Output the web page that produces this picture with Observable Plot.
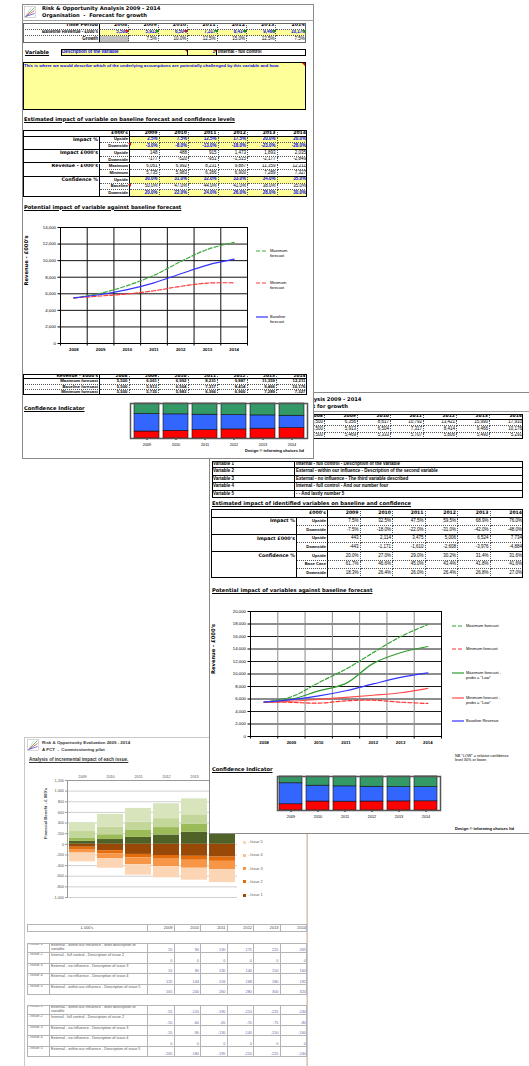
<!DOCTYPE html>
<html>
<head>
<meta charset="utf-8">
<script src="https://cdn.jsdelivr.net/npm/d3@7"></script>
<script src="https://cdn.jsdelivr.net/npm/@observablehq/plot@0.6"></script>
<style>
html,body{margin:0;padding:0;background:#fff;}
body{position:relative;width:529px;height:1066px;overflow:hidden;font-family:"Liberation Sans",Arial,sans-serif;}
.sheet{position:absolute;background:#fff;box-shadow:inset 0 0 0 1px #8a8a8a;overflow:hidden;}
.c{position:absolute;box-sizing:border-box;white-space:nowrap;overflow:hidden;display:flex;align-items:center;font-size:4.5px;line-height:1;padding:0 1px;}
.t{position:absolute;white-space:pre;line-height:1.15;}
.box{position:absolute;box-sizing:border-box;pointer-events:none;}
.sheet svg{position:absolute;overflow:visible;}
</style>
</head>
<body>
<script>
// ---------------- data ----------------
const years = [2008, 2009, 2010, 2011, 2012, 2013, 2014];
const forecastYears = [2009, 2010, 2011, 2012, 2013, 2014];
const growthPct = [null, 7.5, 10.0, 12.5, 15.0, 12.5, 7.5];
const baselineRevenue = [5500, 5913, 6504, 7317, 8414, 9466, 10176];

// Single variable: "Description of the variable"
const oneUpsidePct = [2.5, 7.5, 12.5, 17.5, 20.0, 20.0];
const oneDownsidePct = [-3.0, -8.0, -13.0, -18.0, -23.0, -28.0];
const oneUpsideK = [148, 488, 915, 1473, 1893, 2035];
const oneDownsideK = [-177, -520, -951, -1515, -2177, -2849];
const oneMaxForecast = [5500, 6061, 6992, 8231, 9887, 11359, 12211];
const oneMinForecast = [5500, 5735, 5983, 6366, 6900, 7289, 7327];
const oneConfUp = [30.0, 31.0, 32.0, 33.0, 34.0, 35.0];
const oneConfBase = [50.0, 47.0, 44.0, 41.0, 38.0, 35.0];
const oneConfDown = [20.0, 22.0, 24.0, 26.0, 28.0, 30.0];

// Five identified variables combined
const variableNames = ["Variable 1", "Variable 2", "Variable 3", "Variable 4", "Variable 5"];
const variableDesc = [
  "Internal - full control - Description of the variable",
  "External - within our influence - Description of the second variable",
  "External - no influence - The third variable described",
  "Internal - full control - And our number four",
  " -  - And lastly number 5"
];
const allUpsidePct = [7.5, 32.5, 47.5, 59.5, 68.9, 76.0];
const allDownsidePct = [-7.5, -18.0, -22.0, -31.0, -42.0, -48.0];
const allUpsideK = [443, 2114, 3475, 5006, 6524, 7734];
const allDownsideK = [-443, -1171, -1610, -2608, -3976, -4884];
const allMaxForecast = [5500, 6356, 8617, 10792, 13421, 15990, 17910];
const allMinForecast = [5500, 5469, 5333, 5707, 5806, 5490, 5291];
const allMaxLowConf = [5500, 5950, 7300, 8500, 11700, 13400, 14400];
const allMinLowConf = [5500, 5650, 5950, 6250, 6600, 7000, 7700];
const allConfUp = [20.0, 27.0, 29.0, 30.2, 31.4, 31.6];
const allConfBase = [61.7, 46.6, 45.0, 43.4, 41.8, 41.6];
const allConfDown = [18.3, 26.4, 26.0, 26.4, 26.8, 27.0];

// Commissioning pilot: incremental impact of each issue
const issueYears = [2009, 2010, 2011, 2012, 2013, 2014];
const issueNames = ["Issue 1", "Issue 2", "Issue 3", "Issue 4", "Issue 5"];
const issueDesc = [
  "External - within our influence - Brief description of variable",
  "Internal - full control - Description of issue 2",
  "External - no influence - Description of issue 3",
  "External - no influence - Description of issue 4",
  "External - within our influence - Description of issue 5"
];
const issueUpside = [
  [55, 90, 130, 175, 225, 265],
  [0, 0, 0, 0, 0, 0],
  [55, 90, 130, 140, 150, 160],
  [132, 144, 156, 168, 180, 192],
  [165, 240, 260, 280, 300, 320]
];
const issueDownside = [
  [-55, -120, -190, -210, -225, -240],
  [-55, -60, -65, -70, -75, -80],
  [-55, -90, -130, -140, -150, -160],
  [0, 0, 0, 0, 0, 0],
  [-165, -180, -195, -210, -225, -240]
];

// ---------------- styling ----------------
const upsideColors = ["#4f6228", "#77933c", "#9bbb59", "#c4d79b", "#d8e4bc"];
const downsideColors = ["#984807", "#e46c0a", "#f79646", "#fabf8f", "#fcd5b4"];
const YEL = "#ffff99", BLUE = "#0000ee";
const DOT = "1px dotted #555", SOL = "1px solid #000", GRY = "1px solid #b4b4b4";
const FONT = '"Liberation Sans", Arial, sans-serif';
const HEAD = '"DejaVu Sans", sans-serif';

const locale = d3.formatLocale({decimal: ".", thousands: ",", grouping: [3], currency: ["£", ""], minus: "-"});
const fmtInt = locale.format(",.0f");
const fmtPct = v => v.toFixed(1) + "%";

// ---------------- helpers ----------------
function sheet(x, y, w, h, z) {
  const d = document.createElement("div");
  d.className = "sheet";
  Object.assign(d.style, {left: x + "px", top: y + "px", width: w + "px", height: h + "px", zIndex: z});
  d.ox = x; d.oy = y;
  document.body.appendChild(d);
  return d;
}
function cell(s, x, y, w, h, text, o = {}) {
  const d = document.createElement("div");
  d.className = "c";
  const st = d.style;
  st.left = (x - s.ox) + "px"; st.top = (y - s.oy) + "px";
  st.width = w + "px"; st.height = h + "px";
  st.justifyContent = o.align === "left" ? "flex-start" : o.align === "center" ? "center" : "flex-end";
  st.borderRight = o.r || "none";
  st.borderBottom = o.b || "none";
  if (o.bg) st.background = o.bg;
  st.color = o.color || "#000";
  st.fontWeight = o.bold ? "bold" : "normal";
  if (o.size) st.fontSize = o.size + "px";
  if (o.family) st.fontFamily = o.family;
  if (o.valign) st.alignItems = o.valign;
  if (o.wrap) { st.whiteSpace = "normal"; st.lineHeight = "1.15"; }
  d.textContent = text;
  s.appendChild(d);
  return d;
}
function label(s, x, y, text, o = {}) {
  const d = document.createElement("div");
  d.className = "t";
  d.style.left = (x - s.ox) + "px"; d.style.top = (y - s.oy) + "px";
  d.style.fontSize = (o.size || 5) + "px";
  d.style.fontWeight = o.bold ? "bold" : "normal";
  d.style.color = o.color || "#000";
  if (o.family) d.style.fontFamily = o.family;
  if (o.underline) d.style.textDecoration = "underline";
  d.textContent = text;
  s.appendChild(d);
  return d;
}
function rect(s, x, y, w, h, border, bg) {
  const d = document.createElement("div");
  d.className = "box";
  Object.assign(d.style, {left: (x - s.ox) + "px", top: (y - s.oy) + "px", width: w + "px", height: h + "px"});
  if (border) d.style.border = border;
  if (bg) d.style.background = bg;
  s.appendChild(d);
  return d;
}
function marker(s, x, y, color) {
  const d = document.createElement("div");
  d.className = "box";
  Object.assign(d.style, {left: (x - 3 - s.ox) + "px", top: (y - s.oy) + "px", width: "0", height: "0",
    borderTop: "3px solid " + color, borderLeft: "3px solid transparent"});
  s.appendChild(d);
}
function mount(s, el, x, y) {
  el.style.position = "absolute";
  el.style.left = (x - s.ox) + "px";
  el.style.top = (y - s.oy) + "px";
  s.appendChild(el);
}
function svgEl(w, h, inner) {
  const div = document.createElement("div");
  div.innerHTML = `<svg xmlns="http://www.w3.org/2000/svg" width="${w}" height="${h}" viewBox="0 0 ${w} ${h}">${inner}</svg>`;
  return div.firstChild;
}
function logo() {
  return svgEl(12, 12, `<rect x="0.5" y="0.5" width="11" height="11" fill="#fff" stroke="#bbb" stroke-width="0.6"/>
    <path d="M1.5 10.5 L10.5 1.5" stroke="#3a3" stroke-width="0.7"/>
    <path d="M1.5 10.5 L10.5 4.5" stroke="#e33" stroke-width="0.7"/>
    <path d="M1.5 10.5 L10.5 7.5" stroke="#33e" stroke-width="0.7"/>
    <path d="M1.5 10.5 L7 1.5" stroke="#aaa" stroke-width="0.5"/>`);
}
function lineLegend(s, x, y, text, stroke, dash, size) {
  const sw = svgEl(12, 4, `<line x1="0" y1="2" x2="12" y2="2" stroke="${stroke}" stroke-width="1.2" ${dash ? `stroke-dasharray="${dash}"` : ""}/>`);
  mount(s, sw, x, y);
  label(s, x + 14, y, text, {size});
}

// Tables of impact by year (variable label, sub label, one column per forecast year)
function impactTable(s, x0, y0, lw, sw, cw, rh, groups, highlight) {
  cell(s, x0, y0, lw + sw, rh, "£000's", {bold: true, r: SOL, b: SOL, family: HEAD, size: 4.6});
  forecastYears.forEach((yr, j) => cell(s, x0 + lw + sw + j * cw, y0, cw, rh, String(yr),
    {bold: true, r: j < 5 ? DOT : "none", b: SOL, family: HEAD, size: 4.6}));
  let y = y0 + rh;
  groups.forEach(g => {
    g.rows.forEach((row, i) => {
      const last = i === g.rows.length - 1;
      cell(s, x0, y, lw, rh, i === 0 ? g.name : "", {bold: true, r: SOL, b: last ? SOL : "none", size: 4.8, family: HEAD});
      cell(s, x0 + lw, y, sw, rh, row.sub, {bold: true, r: SOL, b: last ? SOL : DOT, size: 4.2});
      const hl = highlight && row.hl;
      row.values.forEach((v, j) => cell(s, x0 + lw + sw + j * cw, y, cw, rh, v,
        {r: j < 5 ? DOT : "none", b: last ? SOL : DOT, bg: hl ? YEL : null, color: hl ? BLUE : "#000", bold: hl}));
      y += rh;
    });
  });
  rect(s, x0, y0, lw + sw + 6 * cw, y - y0, "1px solid #000");
}

function revenueChart(o) {
  const yTicks = d3.range(0, o.yMax + 1, 2000);
  const bounds = years.map(y => y - 0.5).concat([years[years.length - 1] + 0.5]);
  const seriesMarks = o.series.map(s => Plot.line(
    years.map((yr, i) => ({year: yr, value: s.values[i]})),
    {x: "year", y: "value", stroke: s.stroke, strokeWidth: 1.2, strokeDasharray: s.dash || null, curve: "catmull-rom"}
  ));
  return Plot.plot({
    width: o.width, height: o.height,
    marginLeft: o.ml, marginRight: o.mr, marginTop: o.mt, marginBottom: o.mb,
    style: {background: "transparent", fontSize: o.fs + "px", fontFamily: FONT, color: "#000", overflow: "visible"},
    x: {domain: [years[0] - 0.5, years[years.length - 1] + 0.5]},
    y: {domain: [0, o.yMax]},
    marks: [
      Plot.ruleY(yTicks, {stroke: o.hGrid, strokeWidth: 1}),
      Plot.ruleX(bounds, {stroke: o.vGrid, strokeWidth: 1}),
      Plot.axisY(yTicks, {tickSize: 2.5, tickPadding: 2, tickFormat: fmtInt, fontSize: o.fs, label: null}),
      Plot.axisX(bounds, {tickSize: 2.5, tickFormat: () => "", label: null}),
      Plot.axisX(years, {tickSize: 0, tickPadding: 4, tickFormat: d => String(d), fontSize: o.fs, fontWeight: "bold", label: null}),
      Plot.text([o.yTitle], {text: d => d, frameAnchor: "left", rotate: -90, dx: -o.titleOffset, fontSize: 5.2, fontWeight: "bold", fontFamily: HEAD}),
      ...seriesMarks,
      Plot.frame({stroke: "#000"})
    ]
  });
}

function confidenceChart(o) {
  const rows = [];
  forecastYears.forEach((yr, i) => {
    rows.push({year: yr, part: "Downside", value: o.down[i]});
    rows.push({year: yr, part: "Baseline", value: o.base[i]});
    rows.push({year: yr, part: "Upside", value: o.up[i]});
  });
  return Plot.plot({
    width: o.width, height: o.height,
    marginLeft: o.ml, marginRight: o.mr, marginTop: o.mt, marginBottom: o.mb,
    style: {background: "transparent", fontSize: "3.8px", fontFamily: FONT, color: "#000", overflow: "visible"},
    x: {type: "band", domain: forecastYears, paddingInner: 0.14, paddingOuter: 0.05},
    y: {domain: [0, 100], axis: null},
    color: {domain: ["Downside", "Baseline", "Upside"], range: ["#ff0000", "#3366ff", "#339966"]},
    marks: [
      Plot.barY(rows, {x: "year", y: "value", fill: "part", stroke: "#111", strokeWidth: 0.6}),
      Plot.axisX({tickSize: 2, tickPadding: 3, fontSize: 3.8, tickFormat: d => String(d), label: null}),
      Plot.frame({stroke: "#555", strokeWidth: 1.5})
    ]
  });
}

function issueChart(o) {
  const rows = [];
  issueYears.forEach((yr, j) => {
    issueNames.forEach((nm, i) => rows.push({year: yr, key: "up " + nm, value: issueUpside[i][j], fill: upsideColors[i]}));
    issueNames.forEach((nm, i) => rows.push({year: yr, key: "down " + nm, value: issueDownside[i][j], fill: downsideColors[i]}));
  });
  const yTicks = d3.range(-1000, 1201, 200);
  return Plot.plot({
    width: o.width, height: o.height,
    marginLeft: o.ml, marginRight: o.mr, marginTop: o.mt, marginBottom: o.mb,
    style: {background: "transparent", fontSize: "3.6px", fontFamily: FONT, color: "#555", overflow: "visible"},
    x: {type: "band", domain: issueYears, paddingInner: 0.07, paddingOuter: 0.03},
    y: {domain: [-1000, 1200]},
    color: {type: "identity"},
    marks: [
      Plot.ruleY(yTicks, {stroke: "#c4c4c4", strokeWidth: 0.8}),
      Plot.barY(rows, {x: "year", y: "value", z: "key", fill: "fill"}),
      Plot.axisY(yTicks, {tickSize: 2, tickPadding: 1.5, tickFormat: fmtInt, fontSize: 3.8, stroke: "#999", label: null}),
      Plot.axisX({anchor: "top", tickSize: 0, tickPadding: 3, fontSize: 3.8, tickFormat: d => String(d), label: null}),
      Plot.frame({anchor: "left", stroke: "#999"}),
      Plot.frame({anchor: "top", stroke: "#999"}),
      Plot.text(["Financial Benefit - £ 000's"], {text: d => d, frameAnchor: "left", rotate: -90, dx: -o.titleOffset, fontSize: 4.2, fontWeight: "bold", fill: "#444"})
    ]
  });
}

// ============ Sheet 3 (back): commissioning pilot ============
const s3 = sheet(24, 737, 284, 340, 1);
s3.style.boxShadow = "inset 0 0 0 1px #c8c8c8, inset -1px 0 0 1px #f6d7bd";
mount(s3, logo(), 27, 739);
label(s3, 42, 739.5, "Risk & Opportunity Evaluation 2009 - 2014", {size: 4.4, bold: true, color: "#333"});
label(s3, 42, 746.5, "A PCT  -  Commissioning pilot", {size: 4.4, bold: true, color: "#333"});
label(s3, 29, 757, "Analysis of incremental impact of each issue.", {size: 4.6, bold: true, underline: true, color: "#333"});
mount(s3, issueChart({width: 213, height: 135, ml: 39, mr: 4, mt: 14, mb: 4, titleOffset: 22}), 28, 766);
// legend for the issues (downside shades)
[4, 3, 2, 1, 0].forEach((i, k) => {
  rect(s3, 243, 840.5 + k * 13.3, 3, 3, null, downsideColors[i]);
  label(s3, 248, 840 + k * 13.3, "- " + issueNames[i], {size: 3.8, color: "#555"});
});
// issue tables
{
  const x0 = 27, lw = 23, dw = 98, cw = 26.5, rh = 10.4;
  const G = GRY;
  cell(s3, x0, 924, lw + dw, 8, "£ 000's", {align: "center", r: G, b: G, size: 3.9, color: "#444"});
  issueYears.forEach((yr, j) => cell(s3, x0 + lw + dw + j * cw, 924, cw, 8, String(yr), {r: j < 5 ? G : "none", b: G, size: 3.9, color: "#444"}));
  rect(s3, x0, 924, lw + dw + 6 * cw, 8, G);
  const table = (y0, values) => {
    issueNames.forEach((nm, i) => {
      const y = y0 + i * rh;
      cell(s3, x0, y, lw, rh, "- " + nm, {align: "left", r: G, b: G, size: 3.8, color: "#555", valign: "flex-start"});
      cell(s3, x0 + lw, y, dw, rh, issueDesc[i], {align: "left", wrap: true, r: G, b: G, size: 3.8, color: "#555", valign: "flex-start"});
      values[i].forEach((v, j) => cell(s3, x0 + lw + dw + j * cw, y, cw, rh, fmtInt(v),
        {r: j < 5 ? G : "none", b: G, size: 3.9, color: "#6a6aa8", valign: "flex-end"}));
    });
    rect(s3, x0, y0, lw + dw + 6 * cw, 5 * rh, G);
  };
  table(943, issueUpside);
  table(1005, issueDownside);
}

// ============ Sheet 2 (middle): identified variables ============
const s2 = sheet(209, 392, 330, 442, 2);
label(s2, 243, 396.6, "Risk & Opportunity Analysis 2009 - 2014", {size: 5.2, bold: true, family: HEAD});
label(s2, 243, 404.2, "Organisation  -  Forecast for growth", {size: 5.2, bold: true, family: HEAD});
rect(s2, 209, 411, 330, 1, null, "#a0a0a0");
{
  const x0 = 220, lw = 72, cw = 33, rh = 6.4, y0 = 413.5;
  const rows = [
    ["Revenue - £000's", years.map(String), true],
    ["Maximum forecast", allMaxForecast.map(fmtInt), false],
    ["Baseline forecast", baselineRevenue.map(fmtInt), false],
    ["Minimum forecast", allMinForecast.map(fmtInt), false]
  ];
  rows.forEach((r, i) => {
    const y = y0 + i * rh;
    cell(s2, x0, y, lw, rh, r[0], {bold: true, r: SOL, b: i === 0 ? SOL : DOT});
    r[1].forEach((v, j) => cell(s2, x0 + lw + j * cw, y, cw, rh, v,
      {bold: r[2], family: r[2] ? HEAD : null, r: j < 6 ? DOT : "none", b: i === 0 ? SOL : DOT}));
  });
  rect(s2, x0, y0, lw + 7 * cw, 4 * rh, "1px solid #000");
}
{
  const x0 = 212, lw = 83, w = 311, rh = 7.4, y0 = 461;
  variableNames.forEach((nm, i) => {
    cell(s2, x0, y0 + i * rh, lw, rh, nm, {align: "left", bold: true, r: SOL, b: SOL, size: 4.5});
    cell(s2, x0 + lw, y0 + i * rh, w - lw, rh, variableDesc[i], {align: "left", bold: true, b: SOL, size: 4.5});
  });
  rect(s2, x0, y0, w, 5 * rh, "1px solid #000");
}
label(s2, 212, 501, "Estimated impact of identified variables on baseline and confidence", {size: 5.2, bold: true, underline: true, family: HEAD});
impactTable(s2, 211, 509, 86, 31, 32.5, 8.6, [
  {name: "Impact %", rows: [{sub: "Upside", values: allUpsidePct.map(fmtPct)}, {sub: "Downside", values: allDownsidePct.map(fmtPct)}]},
  {name: "Impact £000's", rows: [{sub: "Upside", values: allUpsideK.map(fmtInt)}, {sub: "Downside", values: allDownsideK.map(fmtInt)}]},
  {name: "Confidence %", rows: [{sub: "Upside", values: allConfUp.map(fmtPct)}, {sub: "Base Case", values: allConfBase.map(fmtPct)}, {sub: "Downside", values: allConfDown.map(fmtPct)}]}
], false);
label(s2, 212, 588, "Potential impact of variables against baseline forecast", {size: 5.2, bold: true, underline: true, family: HEAD});
mount(s2, revenueChart({
  width: 239, height: 147, ml: 45, mr: 3, mt: 8, mb: 14, fs: 4.3, yMax: 20000,
  hGrid: "#1a1a1a", vGrid: "#8a8a8a", titleOffset: 37, yTitle: "Revenue - £000's",
  series: [
    {values: allMaxForecast, stroke: "#33a033", dash: "4,2"},
    {values: allMinForecast, stroke: "#ff3333", dash: "4,2"},
    {values: allMaxLowConf, stroke: "#2f9a2f"},
    {values: allMinLowConf, stroke: "#ff4d4d"},
    {values: baselineRevenue, stroke: "#3333ff"}
  ]
}), 205, 603);
lineLegend(s2, 452, 624, "Maximum forecast", "#33a033", "4,2", 4);
lineLegend(s2, 452, 647, "Minimum forecast", "#ff3333", "4,2", 4);
lineLegend(s2, 452, 671, "Maximum forecast -\nprobs = \"Low\"", "#2f9a2f", null, 4);
lineLegend(s2, 452, 696, "Minimum forecast -\nprobs = \"Low\"", "#ff4d4d", null, 4);
lineLegend(s2, 452, 719, "Baseline Revenue", "#3333ff", null, 4);
label(s2, 455, 754, "NB \"LOW\" = relative confidence\nlevel 30% or lower.", {size: 3.8});
label(s2, 212, 767, "Confidence Indicator", {size: 5.2, bold: true, underline: true, family: HEAD});
mount(s2, confidenceChart({width: 172, height: 49, ml: 5, mr: 4, mt: 4, mb: 11,
  up: allConfUp, base: allConfBase, down: allConfDown}), 272, 772);
label(s2, 455, 827, "Design © informing choices ltd", {size: 4, bold: true});

// ============ Sheet 1 (front): single variable ============
const s1 = sheet(22, 4, 292, 455, 3);
mount(s1, logo(), 24, 6);
label(s1, 42, 6.2, "Risk & Opportunity Analysis 2009 - 2014", {size: 5.2, bold: true, family: HEAD});
label(s1, 42, 12.6, "Organisation  -  Forecast for growth", {size: 5.2, bold: true, family: HEAD});
rect(s1, 22, 20, 292, 1, null, "#a0a0a0");
{
  const x0 = 23, lw = 77, cw = 29.4, rh = 6.6, y0 = 23;
  cell(s1, x0, y0, lw, rh, "Time Period", {bold: true, r: SOL, b: DOT, size: 4.8, family: HEAD});
  years.forEach((yr, j) => cell(s1, x0 + lw + j * cw, y0, cw, rh, String(yr), {bold: true, r: j < 6 ? DOT : "none", b: DOT, size: 4.8, family: HEAD}));
  cell(s1, x0, y0 + rh, lw, rh, "Baseline Revenue - £000's", {bold: true, r: SOL, b: DOT});
  baselineRevenue.forEach((v, j) => {
    cell(s1, x0 + lw + j * cw, y0 + rh, cw, rh, fmtInt(v), {bold: true, bg: YEL, color: BLUE, r: j < 6 ? DOT : "none", b: DOT});
    marker(s1, x0 + lw + (j + 1) * cw - 1, y0 + rh, j === 0 || j === 2 ? "#ff0000" : "#00a000");
  });
  cell(s1, x0, y0 + 2 * rh, lw, rh, "Growth", {bold: true, r: SOL});
  growthPct.forEach((v, j) => cell(s1, x0 + lw + j * cw, y0 + 2 * rh, cw, rh, v == null ? "" : fmtPct(v),
    {bg: v == null ? "#c0c0c0" : null, r: j < 6 ? DOT : "none"}));
  rect(s1, x0 - 0.5, y0 - 0.5, lw + 7 * cw + 1, 3 * rh + 1, "1.5px solid #666");
}
label(s1, 25, 50, "Variable", {size: 5.2, bold: true, underline: true, family: HEAD});
cell(s1, 61, 49, 127, 7, "Description of the variable", {align: "left", bg: YEL, color: BLUE, bold: true, r: SOL});
marker(s1, 187, 49, "#ff0000");
cell(s1, 188, 49, 29, 7, "1", {align: "flex-end", bg: YEL, color: BLUE, bold: true, r: SOL});
marker(s1, 216, 49, "#ff0000");
cell(s1, 217, 49, 89, 7, "Internal - full control", {align: "left", bold: true});
rect(s1, 61, 49, 245, 7, "1px solid #000");
{
  const d = cell(s1, 23, 62, 283, 48, "This is where we would describe which of the underlying assumptions are potentially challenged by this variable and how.",
    {align: "left", bg: YEL, color: BLUE, bold: true, valign: "flex-start", size: 4.4});
  d.style.paddingTop = "2px";
  rect(s1, 23, 62, 283, 48, "1px solid #000");
  marker(s1, 305, 63, "#ff0000");
}
label(s1, 24, 116.5, "Estimated impact of variable on baseline forecast and confidence levels", {size: 5.2, bold: true, underline: true, family: HEAD});
impactTable(s1, 23, 130, 77, 30, 29.5, 6.7, [
  {name: "Impact %", rows: [{sub: "Upside", values: oneUpsidePct.map(fmtPct), hl: true}, {sub: "Downside", values: oneDownsidePct.map(fmtPct), hl: true}]},
  {name: "Impact £000's", rows: [{sub: "Upside", values: oneUpsideK.map(fmtInt)}, {sub: "Downside", values: oneDownsideK.map(fmtInt)}]},
  {name: "Revenue - £000's", rows: [{sub: "Maximum", values: oneMaxForecast.slice(1).map(fmtInt)}, {sub: "Minimum", values: oneMinForecast.slice(1).map(fmtInt)}]},
  {name: "Confidence %", rows: [{sub: "Upside", values: oneConfUp.map(fmtPct), hl: true}, {sub: "Baseline", values: oneConfBase.map(fmtPct)}, {sub: "Downside", values: oneConfDown.map(fmtPct), hl: true}]}
], true);
marker(s1, 131, 143.4, "#ff0000");
marker(s1, 131, 183.6, "#ff0000");
label(s1, 24, 204.5, "Potential impact of variable against baseline forecast", {size: 5.2, bold: true, underline: true, family: HEAD});
mount(s1, revenueChart({
  width: 230, height: 139, ml: 40, mr: 3, mt: 9, mb: 14, fs: 4.3, yMax: 14000,
  hGrid: "#111", vGrid: "#111", titleOffset: 34, yTitle: "Revenue - £000's",
  series: [
    {values: oneMaxForecast, stroke: "#3fa83f", dash: "4,2"},
    {values: oneMinForecast, stroke: "#ff3b3b", dash: "4,2"},
    {values: baselineRevenue, stroke: "#3333ff"}
  ]
}), 20, 218);
lineLegend(s1, 256, 249, "Maximum\nforecast", "#3fa83f", "4,2", 4);
lineLegend(s1, 256, 281, "Minimum\nforecast", "#ff3b3b", "4,2", 4);
lineLegend(s1, 256, 315, "Baseline\nforecast", "#3333ff", null, 4);
{
  const x0 = 23, lw = 77, cw = 29.5, rh = 5.3, y0 = 374;
  const rows = [
    ["Revenue - £000's", years.map(String), true],
    ["Maximum forecast", oneMaxForecast.map(fmtInt), false],
    ["Baseline forecast", baselineRevenue.map(fmtInt), false],
    ["Minimum forecast", oneMinForecast.map(fmtInt), false]
  ];
  rows.forEach((r, i) => {
    const y = y0 + i * rh;
    cell(s1, x0, y, lw, rh, r[0], {bold: true, r: SOL, b: i === 0 ? SOL : DOT, size: 4.3, family: r[2] ? HEAD : null});
    r[1].forEach((v, j) => cell(s1, x0 + lw + j * cw, y, cw, rh, v,
      {bold: true, r: j < 6 ? DOT : "none", b: i === 0 ? SOL : DOT, size: 4.3, family: r[2] ? HEAD : null}));
  });
  rect(s1, x0, y0, lw + 7 * cw, 4 * rh, "1px solid #000");
}
label(s1, 24, 405.5, "Confidence Indicator", {size: 5.2, bold: true, underline: true, family: HEAD});
mount(s1, confidenceChart({width: 186, height: 49, ml: 5, mr: 4, mt: 3, mb: 11,
  up: oneConfUp, base: oneConfBase, down: oneConfDown}), 125, 400);
label(s1, 245, 449, "Design © informing choices ltd", {size: 4, bold: true});
</script>
</body>
</html>
